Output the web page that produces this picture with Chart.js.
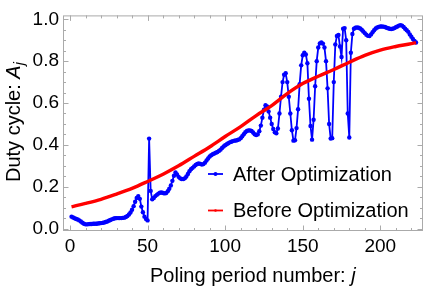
<!DOCTYPE html>
<html lang="en">
<head>
<meta charset="UTF-8">
<title>Duty cycle vs poling period</title>
<script src="https://cdn.jsdelivr.net/npm/chart.js"></script>
<style>
  body { margin: 0; background: #fff; }
  #chart { display: block; }
</style>
</head>
<body>
<canvas id="chart" width="436" height="304"></canvas>
<script>
// duty cycle after optimization, one value per poling period j = 1..223
const afterOpt = [
  0.057, 0.053, 0.049, 0.046, 0.043, 0.039, 0.034, 0.028, 0.023, 0.020,
  0.020, 0.021, 0.022, 0.022, 0.023, 0.023, 0.023, 0.024, 0.025, 0.026,
  0.027, 0.029, 0.031, 0.034, 0.037, 0.041, 0.044, 0.047, 0.049, 0.050,
  0.050, 0.050, 0.050, 0.051, 0.052, 0.055, 0.060, 0.067, 0.077, 0.090,
  0.107, 0.128, 0.146, 0.155, 0.142, 0.105, 0.078, 0.057, 0.046, 0.039,
  0.430, 0.180, 0.140, 0.146, 0.155, 0.161, 0.167, 0.171, 0.172, 0.170,
  0.168, 0.170, 0.178, 0.190, 0.206, 0.228, 0.252, 0.268, 0.258, 0.247,
  0.240, 0.237, 0.237, 0.240, 0.249, 0.261, 0.274, 0.284, 0.290, 0.297,
  0.304, 0.309, 0.311, 0.309, 0.306, 0.308, 0.315, 0.325, 0.335, 0.344,
  0.350, 0.355, 0.359, 0.362, 0.366, 0.371, 0.377, 0.385, 0.392, 0.398,
  0.403, 0.408, 0.412, 0.415, 0.418, 0.420, 0.421, 0.423, 0.426, 0.432,
  0.441, 0.451, 0.460, 0.466, 0.469, 0.469, 0.466, 0.459, 0.451, 0.447,
  0.450, 0.465, 0.492, 0.530, 0.568, 0.589, 0.584, 0.560, 0.530, 0.500,
  0.476, 0.460, 0.455, 0.478, 0.550, 0.630, 0.700, 0.735, 0.742, 0.700,
  0.630, 0.550, 0.470, 0.420, 0.422, 0.480, 0.570, 0.690, 0.780, 0.828,
  0.840, 0.832, 0.790, 0.620, 0.490, 0.425, 0.520, 0.680, 0.800, 0.865,
  0.885, 0.890, 0.884, 0.865, 0.800, 0.670, 0.500, 0.430, 0.432, 0.700,
  0.880, 0.920, 0.925, 0.870, 0.820, 0.955, 0.958, 0.900, 0.550, 0.435,
  0.840, 0.930, 0.955, 0.960, 0.961, 0.960, 0.956, 0.950, 0.942, 0.934,
  0.926, 0.921, 0.920, 0.928, 0.938, 0.948, 0.956, 0.961, 0.964, 0.966,
  0.966, 0.965, 0.963, 0.960, 0.957, 0.955, 0.954, 0.955, 0.958, 0.962,
  0.966, 0.970, 0.972, 0.970, 0.963, 0.955, 0.948, 0.940, 0.928, 0.917,
  0.906, 0.896, 0.889
];

// before optimization, read every 10 periods
const beforeJ = [1, 10, 20, 30, 40, 50, 60, 70, 80, 90, 100, 110, 120, 130, 140, 150, 160, 170, 180, 190, 200, 210, 220, 223];
const beforeOpt = [0.104, 0.120, 0.140, 0.165, 0.192, 0.225, 0.260, 0.300, 0.345, 0.390, 0.440, 0.487, 0.540, 0.588, 0.645, 0.693, 0.728, 0.760, 0.795, 0.828, 0.853, 0.870, 0.884, 0.889];

const xTicks = [0, 50, 100, 150, 200];
const yTicks = [0, 0.2, 0.4, 0.6, 0.8, 1.0];

const FONT = "'Liberation Sans', Arial, sans-serif";
const BLUE = '#0000ff';
const RED = '#ff0000';

// mathematica style frame with inward ticks on all four sides
const framePlugin = {
    id: 'frame',
    beforeDatasetsDraw(chart) {
        const { ctx, chartArea: a, scales: { x, y } } = chart;
        ctx.save();
        ctx.strokeStyle = '#aaaaaa';
        ctx.lineWidth = 1;
        ctx.strokeRect(a.left + 0.5, a.top + 0.5, a.right - a.left - 1, a.bottom - a.top - 1);
        ctx.beginPath();
        for (let v = 0; v <= 220; v += 10) {
            const px = Math.round(x.getPixelForValue(v)) + 0.5;
            const len = v % 50 === 0 ? 5.5 : 3;
            ctx.moveTo(px, a.bottom); ctx.lineTo(px, a.bottom - len);
            ctx.moveTo(px, a.top); ctx.lineTo(px, a.top + len);
        }
        for (let k = 0; k <= 20; k++) {
            const py = Math.round(y.getPixelForValue(k * 0.05)) + 0.5;
            const len = k % 4 === 0 ? 5.5 : 3;
            ctx.moveTo(a.left, py); ctx.lineTo(a.left + len, py);
            ctx.moveTo(a.right, py); ctx.lineTo(a.right - len, py);
        }
        ctx.stroke();
        ctx.restore();
    }
};

// draws text pieces one after another (for italics / subscripts)
function drawRich(ctx, parts, x, y) {
    let cx = x;
    parts.forEach(p => {
        ctx.font = p.font;
        ctx.fillText(p.text, cx, y + (p.dy || 0));
        cx += ctx.measureText(p.text).width;
    });
}

const labelsPlugin = {
    id: 'labels',
    afterDraw(chart) {
        const ctx = chart.ctx;
        ctx.save();
        ctx.fillStyle = '#000';
        ctx.textBaseline = 'alphabetic';
        ctx.textAlign = 'left';

        // x axis title
        drawRich(ctx, [
            { text: 'Poling period number: ', font: '20px ' + FONT },
            { text: 'j', font: 'italic 20px ' + FONT }
        ], 150, 281.5);

        // y axis title, rotated
        ctx.save();
        ctx.translate(20, 182);
        ctx.rotate(-Math.PI / 2);
        drawRich(ctx, [
            { text: 'Duty cycle: ', font: '20px ' + FONT },
            { text: 'A', font: 'italic 20px ' + FONT },
            { text: 'j', font: 'italic 14px ' + FONT, dy: 4 }
        ], 0, 0);
        ctx.restore();

        // legend inside the frame
        const items = [
            { ds: chart.data.datasets[1], y: 174, base: 180.5, r: 2 },
            { ds: chart.data.datasets[0], y: 210.5, base: 216.5, r: 1.3 }
        ];
        items.forEach(it => {
            ctx.strokeStyle = it.ds.borderColor;
            ctx.fillStyle = it.ds.borderColor;
            ctx.lineWidth = 1.8;
            ctx.beginPath();
            ctx.moveTo(208, it.y);
            ctx.lineTo(223, it.y);
            ctx.stroke();
            ctx.beginPath();
            ctx.arc(215.5, it.y, it.r, 0, Math.PI * 2);
            ctx.fill();
            ctx.fillStyle = '#000';
            ctx.font = '20px ' + FONT;
            ctx.fillText(it.ds.label, 233, it.base);
        });
        ctx.restore();
    }
};

new Chart(document.getElementById('chart'), {
    type: 'line',
    data: {
        datasets: [{
            label: 'Before Optimization',
            data: beforeJ.map((j, i) => ({ x: j, y: beforeOpt[i] })),
            borderColor: RED,
            backgroundColor: RED,
            borderWidth: 3.4,
            pointRadius: 0,
            cubicInterpolationMode: 'monotone',
            order: 0
        }, {
            label: 'After Optimization',
            data: afterOpt.map((v, i) => ({ x: i + 1, y: v })),
            borderColor: BLUE,
            backgroundColor: BLUE,
            borderWidth: 1.8,
            pointRadius: 2.2,
            pointBorderWidth: 0,
            pointBackgroundColor: BLUE,
            tension: 0,
            order: 1
        }]
    },
    options: {
        responsive: false,
        animation: false,
        devicePixelRatio: 1,
        layout: { padding: { top: 11, right: 13, left: 0, bottom: 0 } },
        plugins: { legend: { display: false }, tooltip: { enabled: false } },
        scales: {
            x: {
                type: 'linear',
                min: -4.5,
                max: 227.5,
                afterFit(s) { s.height = 73; },
                afterBuildTicks(s) { s.ticks = xTicks.map(v => ({ value: v })); },
                grid: { display: false, drawTicks: false },
                border: { display: false },
                ticks: { padding: 4, color: '#000', maxRotation: 0, autoSkip: false, font: { family: FONT, size: 19 } }
            },
            y: {
                type: 'linear',
                min: -0.0117,
                max: 1.0187,
                afterFit(s) { s.width = 63; },
                afterBuildTicks(s) { s.ticks = yTicks.map(v => ({ value: v })); },
                grid: { display: false, drawTicks: false },
                border: { display: false },
                ticks: { padding: 4, color: '#000', autoSkip: false, font: { family: FONT, size: 19 }, callback: v => v.toFixed(1) }
            }
        }
    },
    plugins: [framePlugin, labelsPlugin]
});
</script>
</body>
</html>
